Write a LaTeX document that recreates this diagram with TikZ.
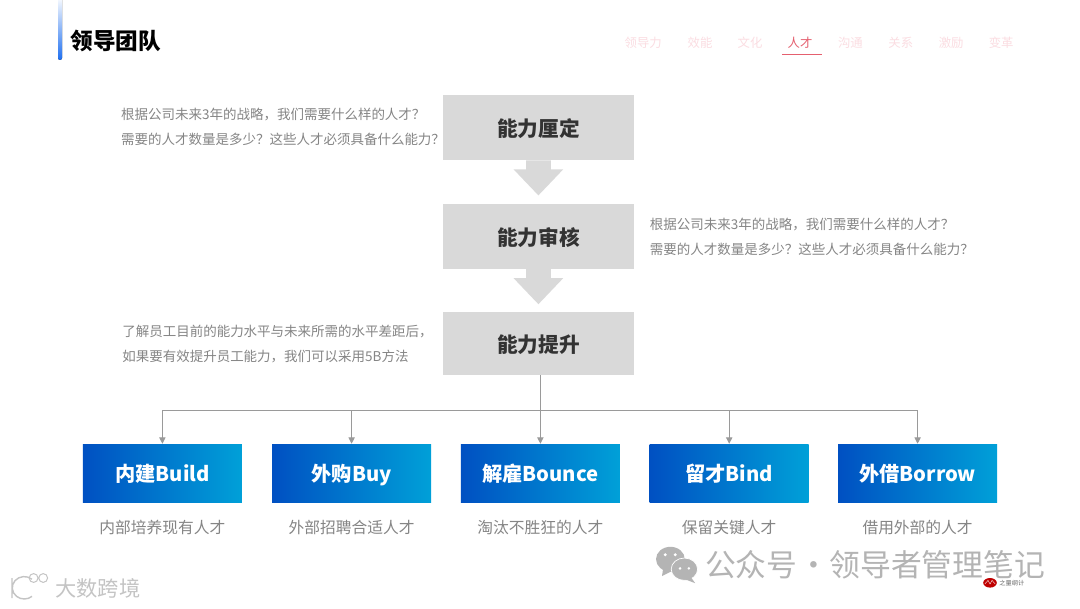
\documentclass[tikz,border=0pt]{standalone}
\usepackage{fontspec}
\setmainfont{Noto Sans CJK SC}
\usetikzlibrary{arrows.meta,positioning,calc}
\definecolor{boxgray}{HTML}{D9D9D9}
\definecolor{textgray}{HTML}{858585}
\definecolor{linegray}{HTML}{9A9A9A}
\definecolor{navpink}{HTML}{FBDDE2}
\definecolor{navred}{HTML}{E5606F}
\definecolor{barblue}{HTML}{1E6FF0}
\definecolor{deepblue}{HTML}{0050C2}
\definecolor{skyblue}{HTML}{00A0D8}
\definecolor{markgray}{HTML}{B4B4B4}
\definecolor{brandgray}{HTML}{C4C4C4}
\tikzset{
  stagebox/.style={fill=boxgray, minimum width=4.775cm, minimum height=1.625cm, inner sep=0pt, text height=14.3pt, text depth=1.8pt, text=black!80, font=\fontsize{14.7}{17}\selectfont\bfseries},
  waybox/.style={left color=deepblue, right color=skyblue, minimum width=3.975cm, minimum height=1.45cm, inner sep=0pt, text height=14.2pt, text depth=1.8pt, text=white, font=\fontsize{14.4}{18}\selectfont\bfseries},
  note/.style={anchor=west, align=left, inner sep=0pt, text=textgray, font=\fontsize{9.6}{17.8}\selectfont},
  waynote/.style={below=0.43cm of #1, inner sep=0pt, text=textgray, font=\fontsize{11.2}{14}\selectfont},
  navitem/.style={inner sep=0pt, text=navpink, font=\fontsize{8.8}{11}\selectfont},
  linkline/.style={draw=linegray, line width=0.6pt},
  linkarrow/.style={linkline, -{Triangle[width=4.5pt,length=4.5pt]}},
}
\newcommand{\blockarrow}[1]{%
  \fill[boxgray] ($(#1.south)+(-0.31,0)$) -- ++(0,-0.225) -- ++(-0.31,0) -- ++(0.62,-0.65) -- ++(0.62,0.65) -- ++(-0.31,0) -- ++(0,0.225) -- cycle;}
\begin{document}
\begin{tikzpicture}
            \useasboundingbox (0,0) rectangle (27,15.2);
            \fill[white] (0,0) rectangle (27,15.2);

            % --- Header ---
            \fill[rounded corners=0.05cm, top color=white, bottom color=barblue] (1.45,13.7) rectangle (1.55,15.3);
            \node[anchor=west, inner sep=0pt, font=\fontsize{16.1}{19}\selectfont\bfseries] (title) at (1.76,14.18) {领导团队};

            \node[navitem] (nav1) at (16.08,14.13) {领导力};
            \node[navitem] (nav2) at (17.5,14.13) {效能};
            \node[navitem] (nav3) at (18.75,14.13) {文化};
            \node[navitem, text=navred] (nav4) at (20,14.13) {人才};
            \node[navitem] (nav5) at (21.26,14.13) {沟通};
            \node[navitem] (nav6) at (22.52,14.13) {关系};
            \node[navitem] (nav7) at (23.78,14.13) {激励};
            \node[navitem] (nav8) at (25.03,14.13) {变革};
            \draw[navred, line width=0.5pt] (19.55,13.85) -- (20.55,13.85);

            % --- Three stages ---
            \node[stagebox] (define) at (13.46,12.01) {能力厘定};
            \node[stagebox] (audit) at (13.46,9.29) {能力审核};
            \node[stagebox, minimum height=1.575cm] (lift) at (13.46,6.61) {能力提升};
            \blockarrow{define}
            \blockarrow{audit}

            \node[note] (definenote) at (3.02,12.03) {根据公司未来3年的战略，我们需要什么样的人才？\\需要的人才数量是多少？这些人才必须具备什么能力？};
            \node[note] (auditnote) at (16.24,9.29) {根据公司未来3年的战略，我们需要什么样的人才？\\需要的人才数量是多少？这些人才必须具备什么能力？};
            \node[note] (liftnote) at (3.05,6.59) {了解员工目前的能力水平与未来所需的水平差距后，\\如果要有效提升员工能力，我们可以采用5B方法};

            % --- Five ways ---
            \node[waybox] (build) at (4.06,3.375) {内建Build};
            \node[waybox] (buy) at (8.79,3.375) {外购Buy};
            \node[waybox] (bounce) at (13.51,3.375) {解雇Bounce};
            \node[waybox] (bind) at (18.23,3.375) {留才Bind};
            \node[waybox] (borrow) at (22.94,3.375) {外借Borrow};

            \node[waynote=build] (buildnote) {内部培养现有人才};
            \node[waynote=buy] (buynote) {外部招聘合适人才};
            \node[waynote=bounce] (bouncenote) {淘汰不胜狂的人才};
            \node[waynote=bind] (bindnote) {保留关键人才};
            \node[waynote=borrow] (borrownote) {借用外部的人才};

            \coordinate (bus) at (13.51,4.95);
            \draw[linkline] (lift.south -| bus) -- (bus);
            \draw[linkline] (build.north |- bus) -- (borrow.north |- bus);
            \foreach \way in {build,buy,bounce,bind,borrow}
                \draw[linkarrow] (\way.north |- bus) -- (\way.north);

            % --- Marks at the foot ---
            \fill[markgray] (16.76,1.22) ellipse (0.36 and 0.31);
            \fill[markgray] (16.58,1.0) -- (16.55,0.8) -- (16.85,0.95) -- cycle;
            \fill[markgray, draw=white, line width=0.5pt] (17.11,0.97) ellipse (0.33 and 0.28);
            \fill[markgray] (17.28,0.76) -- (17.38,0.62) -- (17.12,0.72) -- cycle;
            \fill[white] (16.63,1.33) circle (0.04) (16.88,1.33) circle (0.04) (17,0.99) circle (0.035) (17.22,0.99) circle (0.035);
            \node[anchor=west, inner sep=0pt, text=markgray, font=\fontsize{21.9}{24}\selectfont] (account) at (17.62,1.08) {公众号\kern0.02em·\kern0.02em领导者管理笔记};

            \fill[red!75!black] (24.75,0.63) ellipse (0.17 and 0.12);
            \draw[white, line width=0.25pt] (24.62,0.6) -- (24.7,0.69) -- (24.75,0.6) -- (24.8,0.69) -- (24.88,0.6);
            \node[anchor=west, inner sep=0pt, text=black!60, font=\fontsize{4.4}{5}\selectfont] (maker) at (24.98,0.63) {之量纲计};

            \node[anchor=west, inner sep=0pt, text=brandgray, font=\fontsize{15.1}{17}\selectfont] (brand) at (1.38,0.49) {大数跨境};
            \draw[brandgray, line width=1pt] (0.3,0.75) -- (0.3,0.25) (0.8,0.72) arc (50:310:0.3 and 0.28);
            \draw[brandgray, line width=0.7pt] (0.84,0.75) circle (0.11) (1.08,0.75) circle (0.11);
\end{tikzpicture}
\end{document}
